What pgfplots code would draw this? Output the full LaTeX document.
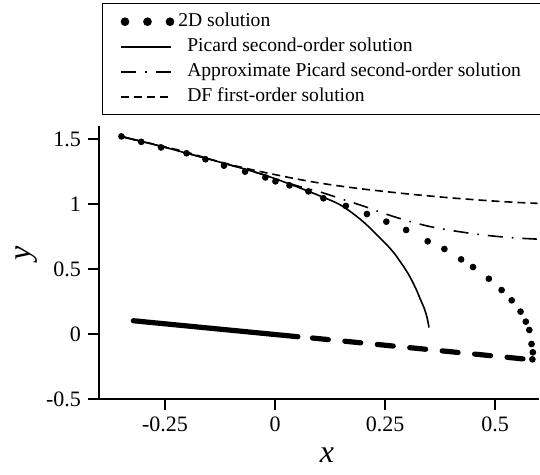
\documentclass[border=0pt]{standalone}
\usepackage{fontspec}
\setmainfont{Liberation Serif}
\usepackage{pgfplots}
\pgfplotsset{compat=1.18}
\begin{document}
\begin{tikzpicture}
\useasboundingbox (-49.5pt,-38pt) rectangle (220.5pt,199.5pt);
\begin{axis}[
  scale only axis, width=220pt, height=136.5pt,
  xmin=-0.4, xmax=0.6, ymin=-0.5, ymax=1.6,
  axis x line*=bottom, axis y line*=left,
  axis line style={-, line width=0.9pt},
  tick align=outside, major tick length=5.5pt,
  tick style={line width=0.9pt, black},
  xtick={-0.25,0,0.25,0.5}, xticklabels={-0.25,0,0.25,0.5},
  ytick={-0.5,0,0.5,1,1.5}, yticklabels={-0.5,0,0.5,1,1.5},
  /pgf/number format/assume math mode=true,
  tick label style={font=\fontsize{11}{13}\selectfont},
  xlabel={\textit{x}}, ylabel={\textit{y}},
  label style={font=\fontsize{16}{18}\selectfont},
  xlabel style={at={(axis description cs:0.518,-0.205)}, anchor=center},
  ylabel style={at={(axis description cs:-0.165,0.535)}, anchor=center},
  legend style={at={(axis description cs:0.0068,1.4505)}, anchor=north west,
    draw=black, line width=0.7pt, inner xsep=9pt, inner ysep=3.5pt,
    font=\fontsize{9.8}{11}\selectfont, row sep=1.5pt, column sep=5.5pt,
    nodes={inner sep=1pt, text height=7pt, text depth=2pt}},
  legend cell align=left,
  legend image code/.code={\draw[#1] (0pt,0pt) -- (25pt,0pt);},
]
\addplot[only marks, mark=*, mark size=1.45pt, black,
  legend image code/.code={\fill (1.75pt,0pt) circle (1.8pt) (13pt,0pt) circle (1.8pt) (24.25pt,0pt) circle (1.8pt);}]
coordinates {(-0.349,1.52) (-0.304,1.478) (-0.259,1.435) (-0.201,1.39) (-0.158,1.344) (-0.116,1.295) (-0.068,1.249) (-0.022,1.204) (0.001,1.174) (0.033,1.143) (0.076,1.097) (0.110,1.044) (0.161,0.985) (0.209,0.923) (0.253,0.864) (0.298,0.8) (0.347,0.713) (0.385,0.654) (0.423,0.574) (0.450,0.515) (0.486,0.425) (0.515,0.338) (0.538,0.259) (0.558,0.172) (0.570,0.095) (0.578,0.031) (0.583,-0.077) (0.586,-0.141) (0.585,-0.195)};
\addlegendentry{\hspace{-4.5pt}2D solution}
\addplot[black, line width=0.8pt, smooth]
coordinates {(-0.35,1.52) (-0.3,1.478) (-0.25,1.436) (-0.2,1.39) (-0.15,1.345) (-0.1,1.298) (-0.05,1.25) (0,1.195) (0.05,1.132) (0.1,1.065) (0.15,0.99) (0.2,0.865) (0.25,0.70) (0.27,0.625) (0.29,0.53) (0.305,0.45) (0.32,0.35) (0.33,0.27) (0.34,0.19) (0.346,0.12) (0.35,0.05)};
\addlegendentry{Picard second-order solution}
\addplot[black, line width=0.8pt, smooth, dash pattern=on 7.5pt off 4.5pt on 0.8pt off 4.5pt]
coordinates {(-0.35,1.52) (-0.3,1.478) (-0.25,1.436) (-0.2,1.39) (-0.15,1.345) (-0.1,1.298) (-0.05,1.25) (0,1.197) (0.05,1.14) (0.1,1.095) (0.15,1.04) (0.2,0.985) (0.25,0.925) (0.3,0.872) (0.35,0.828) (0.4,0.797) (0.45,0.772) (0.5,0.752) (0.55,0.738) (0.595,0.73)};
\addlegendentry{Approximate Picard second-order solution}
\addplot[black, line width=0.8pt, smooth, dash pattern=on 4pt off 2.5pt]
coordinates {(-0.35,1.52) (-0.3,1.48) (-0.25,1.44) (-0.2,1.398) (-0.15,1.347) (-0.1,1.302) (-0.05,1.262) (0,1.226) (0.05,1.192) (0.1,1.162) (0.15,1.137) (0.2,1.115) (0.25,1.096) (0.3,1.078) (0.35,1.062) (0.4,1.047) (0.45,1.034) (0.5,1.022) (0.55,1.012) (0.597,1.005)};
\addlegendentry{DF first-order solution}
\addplot[black, line width=2.6pt, line cap=round, forget plot]
coordinates {(-0.322,0.102) (0.052,-0.021)};
\addplot[black, line width=2.6pt, line cap=round, dash pattern=on 8pt off 8.3pt, forget plot]
coordinates {(0.085,-0.031) (0.574,-0.195)};
\end{axis}
\end{tikzpicture}
\end{document}
